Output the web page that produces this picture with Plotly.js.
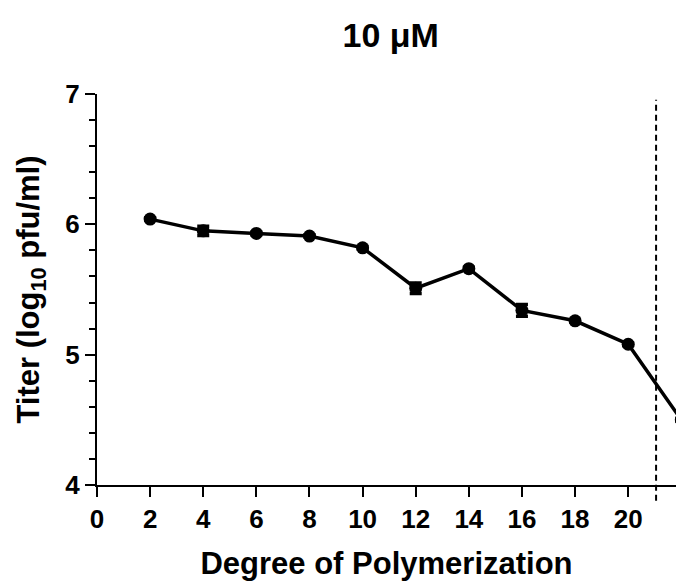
<!DOCTYPE html>
<html>
<head>
<meta charset="utf-8">
<script src="https://cdn.plot.ly/plotly-3.0.1.min.js"></script>
<style>html,body{margin:0;padding:0;background:#fff;}#chart{width:676px;height:582px;}</style>
</head>
<body>
<div id="chart"></div>
<script>
// Data
const degree = [2, 4, 6, 8, 10, 12, 14, 16, 18, 20, 22];
const titer = [6.04, 5.95, 5.93, 5.91, 5.82, 5.51, 5.66, 5.34, 5.26, 5.08, 4.50];
const titerErr = [0.01, 0.035, 0.01, 0.01, 0.01, 0.04, 0.01, 0.045, 0.01, 0.01, 0.01];
const xTicks = [0, 2, 4, 6, 8, 10, 12, 14, 16, 18, 20];
const yTicks = [4, 5, 6, 7];
const cutoffX = 21.05;

const fontFam = '"Liberation Sans", Arial, sans-serif';

const trace = {
  x: degree,
  y: titer,
  type: 'scatter',
  mode: 'lines+markers',
  line: {color: '#000', width: 3.5},
  marker: {color: '#000', size: 13},
  error_y: {type: 'data', array: titerErr, visible: true, color: '#000', thickness: 3.5, width: 6},
  cliponaxis: true,
  showlegend: false
};

const layout = {
  width: 676,
  height: 582,
  margin: {l: 97, r: 0, t: 94, b: 97},
  paper_bgcolor: '#fff',
  plot_bgcolor: '#fff',
  font: {family: fontFam, color: '#000'},
  title: {
    text: '10 μM',
    font: {size: 34, weight: 'bold', family: fontFam, color: '#000'},
    x: 0.578, xanchor: 'center', xref: 'container',
    y: 0.94, yanchor: 'middle', yref: 'container'
  },
  xaxis: {
    range: [0, 21.8],
    tickvals: xTicks,
    ticktext: xTicks.map(String),
    showline: true, linecolor: '#000', linewidth: 2,
    ticks: 'outside', ticklen: 10, tickwidth: 2, tickcolor: '#000',
    showgrid: false, zeroline: false,
    tickfont: {size: 26, weight: 'bold', family: fontFam},
    title: {text: 'Degree of Polymerization', font: {size: 31, weight: 'bold', family: fontFam}, standoff: 19}
  },
  yaxis: {
    range: [4, 7],
    tickvals: yTicks,
    showline: true, linecolor: '#000', linewidth: 2,
    ticks: 'outside', ticklen: 10, tickwidth: 2, tickcolor: '#000',
    minor: {dtick: 0.2, ticks: 'outside', ticklen: 6, tickwidth: 2, tickcolor: '#000', showgrid: false},
    showgrid: false, zeroline: false,
    tickfont: {size: 26, weight: 'bold', family: fontFam},
    title: {text: 'Titer (log<sub>10</sub> pfu/ml)', font: {size: 31, weight: 'bold', family: fontFam}, standoff: 16}
  },
  shapes: [{
    type: 'line', xref: 'x', yref: 'paper',
    x0: cutoffX, x1: cutoffX, y0: -0.04, y1: 0.985,
    line: {color: '#000', width: 2, dash: '6px,4px'}
  }]
};

Plotly.newPlot('chart', [trace], layout, {displayModeBar: false, staticPlot: true});
</script>
</body>
</html>
